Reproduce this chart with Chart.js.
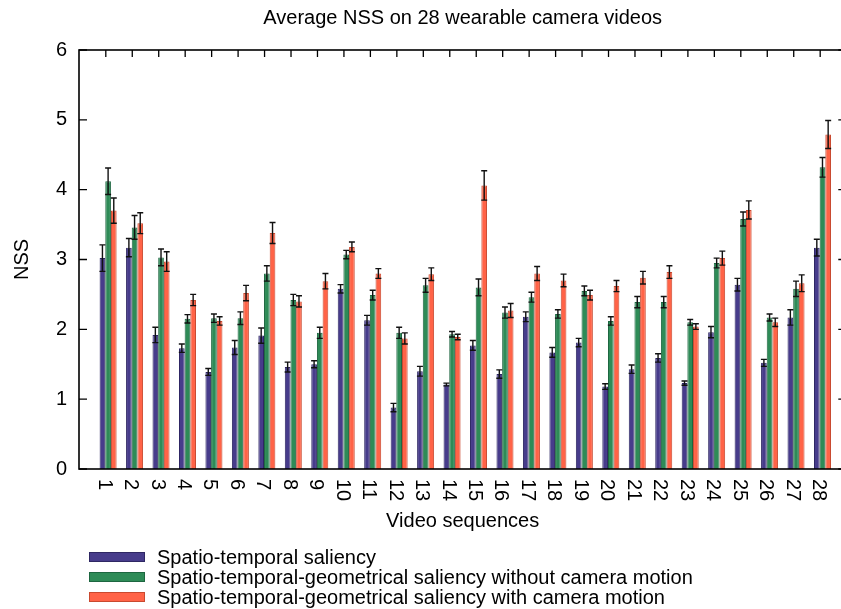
<!DOCTYPE html>
<html>
<head>
<meta charset="utf-8">
<script src="https://cdn.jsdelivr.net/npm/chart.js@4/dist/chart.umd.min.js"></script>
<style>
  html, body { margin: 0; padding: 0; background: #fff; overflow: hidden; }
  #wrap { width: 850px; height: 609px; }
</style>
</head>
<body>
<div id="wrap"><canvas id="nssChart" width="850" height="609"></canvas></div>
<script>
// Video numbers (x categories)
const videos = [1, 2, 3, 4, 5, 6, 7, 8, 9, 10, 11, 12, 13, 14, 15, 16, 17, 18, 19, 20, 21, 22, 23, 24, 25, 26, 27, 28];
const yTicks = [0, 1, 2, 3, 4, 5, 6];

const seriesNames = [
  "Spatio-temporal saliency",
  "Spatio-temporal-geometrical saliency without camera motion",
  "Spatio-temporal-geometrical saliency with camera motion"
];

// Average NSS per video
const spatioTemporal = [3.02, 3.17, 1.92, 1.73, 1.39, 1.74, 1.91, 1.46, 1.50, 2.58, 2.13, 0.88, 1.40, 1.21,
  1.77, 1.36, 2.18, 1.67, 1.81, 1.18, 1.43, 1.59, 1.23, 1.96, 2.64, 1.52, 2.17, 3.17];
const spatioTemporalErr = [0.19, 0.13, 0.11, 0.06, 0.05, 0.10, 0.11, 0.07, 0.05, 0.06, 0.07, 0.06, 0.07, 0.02,
  0.07, 0.06, 0.07, 0.07, 0.06, 0.04, 0.06, 0.06, 0.03, 0.08, 0.09, 0.05, 0.11, 0.12];

const noCamMotion = [4.12, 3.46, 3.03, 2.15, 2.16, 2.16, 2.80, 2.42, 1.95, 3.07, 2.49, 1.95, 2.63, 1.93,
  2.60, 2.24, 2.46, 2.22, 2.55, 2.12, 2.39, 2.39, 2.10, 2.95, 3.58, 2.17, 2.58, 4.32];
const noCamMotionErr = [0.19, 0.17, 0.12, 0.06, 0.06, 0.09, 0.11, 0.08, 0.08, 0.06, 0.07, 0.08, 0.10, 0.04,
  0.12, 0.08, 0.07, 0.06, 0.07, 0.06, 0.08, 0.08, 0.04, 0.07, 0.10, 0.05, 0.11, 0.14];

const withCamMotion = [3.70, 3.52, 2.97, 2.42, 2.12, 2.52, 3.38, 2.40, 2.69, 3.18, 2.80, 1.87, 2.79, 1.89,
  4.06, 2.27, 2.80, 2.70, 2.49, 2.62, 2.74, 2.82, 2.04, 3.02, 3.71, 2.10, 2.66, 4.79];
const withCamMotionErr = [0.18, 0.15, 0.14, 0.08, 0.06, 0.11, 0.15, 0.08, 0.11, 0.07, 0.07, 0.08, 0.09, 0.04,
  0.21, 0.10, 0.10, 0.09, 0.07, 0.08, 0.09, 0.09, 0.04, 0.10, 0.13, 0.06, 0.12, 0.20];

const FONT = "'Liberation Sans', Arial, Helvetica, sans-serif";
Chart.defaults.color = "#000";
Chart.defaults.font.family = FONT;

function makeSet(label, values, errors, fill, edge) {
  return {
    label,
    data: videos.map((v, i) => ({ x: v, y: values[i] })),
    errors,
    backgroundColor: fill,
    borderColor: edge,
    borderWidth: 1,
    categoryPercentage: 0.643,
    barPercentage: 1.0
  };
}

// Error bars ("I" shapes) drawn through the y scale
const errorBars = {
  id: "errorBars",
  afterDatasetsDraw(chart) {
    const ctx = chart.ctx;
    const yScale = chart.scales.y;
    ctx.save();
    ctx.strokeStyle = "#111";
    ctx.lineWidth = 1.4;
    chart.data.datasets.forEach((ds, di) => {
      chart.getDatasetMeta(di).data.forEach((bar, i) => {
        const v = ds.data[i].y;
        const e = ds.errors[i];
        const top = yScale.getPixelForValue(v + e);
        const bot = yScale.getPixelForValue(v - e);
        ctx.beginPath();
        ctx.moveTo(bar.x, top); ctx.lineTo(bar.x, bot);
        ctx.moveTo(bar.x - 3, top); ctx.lineTo(bar.x + 3, top);
        ctx.moveTo(bar.x - 3, bot); ctx.lineTo(bar.x + 3, bot);
        ctx.stroke();
      });
    });
    ctx.restore();
  }
};

// gnuplot-like frame with inward ticks, and rotated x labels
const frame = {
  id: "frame",
  afterDraw(chart) {
    const ctx = chart.ctx;
    const { left, right, top, bottom } = chart.chartArea;
    const x = chart.scales.x, y = chart.scales.y;
    ctx.save();
    ctx.strokeStyle = "#000";
    ctx.lineWidth = 1.3;
    ctx.beginPath();
    yTicks.forEach(t => {
      const py = y.getPixelForValue(t);
      ctx.moveTo(left, py); ctx.lineTo(left + 8, py);
      ctx.moveTo(right - 8, py); ctx.lineTo(right, py);
    });
    videos.forEach(v => {
      const px = x.getPixelForValue(v) - 2.3;
      ctx.moveTo(px, top); ctx.lineTo(px, top + 7);
    });
    ctx.stroke();
    ctx.lineWidth = 1.6;
    ctx.strokeRect(left, top, right - left, bottom - top);

    // x tick labels, rotated clockwise
    ctx.fillStyle = "#000";
    ctx.font = "20px " + FONT;
    ctx.textAlign = "left";
    ctx.textBaseline = "alphabetic";
    videos.forEach(v => {
      const px = x.getPixelForValue(v) - 2.3;
      ctx.save();
      ctx.translate(px - 7.2, bottom + 10);
      ctx.rotate(Math.PI / 2);
      ctx.fillText(String(v), 0, 0);
      ctx.restore();
    });
    ctx.restore();
  }
};

// Stacked legend below the plot
const rowLegend = {
  id: "rowLegend",
  afterDraw(chart) {
    const ctx = chart.ctx;
    const rows = [557, 577, 597];
    ctx.save();
    ctx.font = "20px " + FONT;
    ctx.textBaseline = "alphabetic";
    ctx.textAlign = "left";
    chart.data.datasets.forEach((ds, i) => {
      const cy = rows[i];
      ctx.fillStyle = ds.backgroundColor;
      ctx.fillRect(89, cy - 5, 56, 10);
      ctx.strokeStyle = ds.borderColor;
      ctx.lineWidth = 1;
      ctx.strokeRect(89.5, cy - 4.5, 55, 9);
      ctx.fillStyle = "#000";
      ctx.fillText(ds.label, 157, cy + 7);
    });
    ctx.restore();
  }
};

new Chart(document.getElementById("nssChart"), {
  type: "bar",
  data: {
    datasets: [
      makeSet(seriesNames[0], spatioTemporal, spatioTemporalErr, "#473c8b", "#2e2763"),
      makeSet(seriesNames[1], noCamMotion, noCamMotionErr, "#2e8b57", "#1d6640"),
      makeSet(seriesNames[2], withCamMotion, withCamMotionErr, "#ff6347", "#c9492f")
    ]
  },
  options: {
    responsive: false,
    animation: false,
    devicePixelRatio: 1,
    layout: { padding: { left: 0, right: 3.7, top: 0, bottom: 75.6 } },
    plugins: {
      legend: { display: false },
      tooltip: { enabled: false },
      title: {
        display: true,
        fullSize: false,
        text: "Average NSS on 28 wearable camera videos",
        color: "#000",
        font: { size: 20, weight: "normal" },
        padding: { top: 6, bottom: 20 }
      }
    },
    scales: {
      x: {
        type: "linear",
        offset: false,
        min: -0.1,
        max: 28.9,
        grid: { display: false, drawTicks: false },
        border: { display: false },
        ticks: { display: false },
        title: {
          display: true,
          text: "Video sequences",
          font: { size: 20 },
          padding: { top: 41, bottom: 0 }
        },
        afterFit(scale) { scale.height = 64.4; }
      },
      y: {
        min: 0,
        max: 6,
        grid: { display: false, drawTicks: false },
        border: { display: false },
        ticks: { stepSize: 1, padding: 12, font: { size: 20 } },
        title: {
          display: true,
          text: "NSS",
          font: { size: 20 },
          padding: { top: 10, bottom: 0 }
        },
        afterFit(scale) { scale.width = 79; }
      }
    }
  },
  plugins: [errorBars, frame, rowLegend]
});
</script>
</body>
</html>
